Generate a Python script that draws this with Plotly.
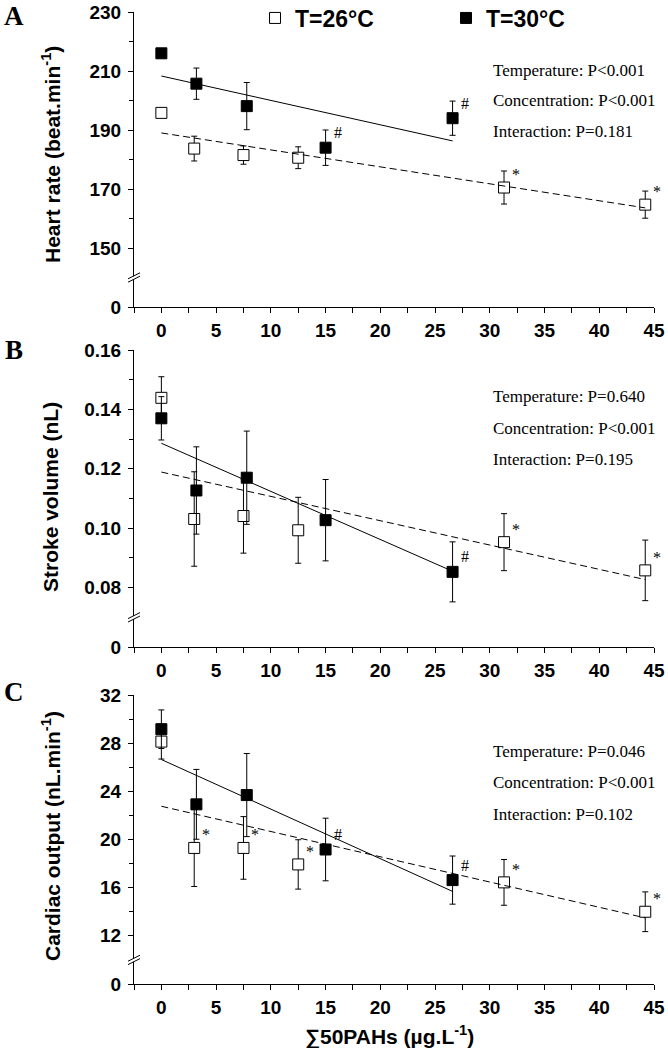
import plotly.graph_objects as go
from plotly.subplots import make_subplots

# sum of 50 PAHs (ug/L) for each group
conc_26 = [0, 3.0, 7.5, 12.5, 31.3, 44.2]
conc_30 = [0, 3.2, 7.8, 15.0, 26.6]

# A - heart rate (beat/min)
hr_26 = [195.8, 183.7, 181.5, 180.6, 170.5, 164.7]
hr_26_err = [1.5, 4.2, 3.1, 3.7, 5.6, 4.6]
hr_30 = [216.0, 205.7, 198.1, 184.0, 194.0]
hr_30_err = [1.5, 5.3, 8.0, 6.0, 5.8]
hr_fit_26 = [189.0, 163.6]
hr_fit_30 = [208.3, 186.3]
hr_marks_26 = ["", "", "", "", "*", "*"]
hr_marks_30 = ["", "", "", "#", "#"]
hr_stats = ["Temperature: P<0.001", "Concentration: P<0.001", "Interaction: P=0.181"]

# B - stroke volume (nL)
sv_26 = [0.1439, 0.1031, 0.1041, 0.0993, 0.0953, 0.0858]
sv_26_err = [0.0071, 0.0159, 0.0125, 0.0111, 0.0096, 0.0102]
sv_30 = [0.1370, 0.1127, 0.1170, 0.1027, 0.0853]
sv_30_err = [0.0073, 0.0147, 0.0157, 0.0137, 0.0101]
sv_fit_26 = [0.1189, 0.0827]
sv_fit_30 = [0.1286, 0.0855]
sv_marks_26 = ["", "", "", "", "*", "*"]
sv_marks_30 = ["", "", "", "", "#"]
sv_stats = ["Temperature: P=0.640", "Concentration: P<0.001", "Interaction: P=0.195"]

# C - cardiac output (nL/min)
co_26 = [28.13, 19.3, 19.3, 17.93, 16.44, 14.0]
co_26_err = [1.45, 3.2, 2.6, 2.05, 1.9, 1.65]
co_30 = [29.16, 22.92, 23.69, 19.17, 16.63]
co_30_err = [1.6, 2.9, 3.45, 2.6, 2.0]
co_fit_26 = [22.76, 13.49]
co_fit_30 = [26.64, 15.69]
co_marks_26 = ["", "*", "*", "*", "*", "*"]
co_marks_30 = ["", "", "", "#", "#"]
co_stats = ["Temperature: P=0.046", "Concentration: P<0.001", "Interaction: P=0.102"]

# broken y axes: the "0" tick sits one step below the lowest real tick
hr_ticks = [130, 150, 170, 190, 210, 230]
hr_ticktext = ["0", "150", "170", "190", "210", "230"]
sv_ticks = [0.06, 0.08, 0.10, 0.12, 0.14, 0.16]
sv_ticktext = ["0", "0.08", "0.10", "0.12", "0.14", "0.16"]
co_ticks = [8, 12, 16, 20, 24, 28, 32]
co_ticktext = ["0", "12", "16", "20", "24", "28", "32"]

W, H = 668, 1048
L, R, T, B = 134, 14, 12, 64
PW, PH = W - L - R, H - T - B
SANS = "Liberation Sans"
SERIF = "Liberation Serif"


def px(xp):
    # pixel -> paper x
    return (xp - L) / PW


def py(yp):
    # pixel -> paper y
    return 1 - (yp - T) / PH


panels = [
    dict(letter="A", title="Heart rate (beat.min<sup>-1</sup>)", top=12, bottom=307,
         y26=hr_26, e26=hr_26_err, y30=hr_30, e30=hr_30_err, f26=hr_fit_26, f30=hr_fit_30,
         m26=hr_marks_26, m30=hr_marks_30, stats=hr_stats, stats_y=[70, 100.7, 131.7],
         ticks=hr_ticks, ticktext=hr_ticktext, minor=[160, 180, 200, 220],
         title_y=155, letter_y=16),
    dict(letter="B", title="Stroke volume (nL)", top=350, bottom=647,
         y26=sv_26, e26=sv_26_err, y30=sv_30, e30=sv_30_err, f26=sv_fit_26, f30=sv_fit_30,
         m26=sv_marks_26, m30=sv_marks_30, stats=sv_stats, stats_y=[396.7, 428.3, 459],
         ticks=sv_ticks, ticktext=sv_ticktext, minor=[0.09, 0.11, 0.13, 0.15],
         title_y=497, letter_y=350),
    dict(letter="C", title="Cardiac output (nL.min<sup>-1</sup>)", top=695, bottom=984,
         y26=co_26, e26=co_26_err, y30=co_30, e30=co_30_err, f26=co_fit_26, f30=co_fit_30,
         m26=co_marks_26, m30=co_marks_30, stats=co_stats, stats_y=[751.7, 782.7, 814],
         ticks=co_ticks, ticktext=co_ticktext, minor=[14, 18, 22, 26, 30],
         title_y=836, letter_y=692),
]

fig = make_subplots(rows=3, cols=1)
annotations = []
shapes = []
mark_shift = {"#": (12, 15), "*": (12, 13)}

for row, p in enumerate(panels, start=1):
    first = row == 1
    err_style = dict(type="data", color="black", thickness=1, width=3)
    fig.add_trace(go.Scatter(
        x=conc_26, y=p["y26"], mode="markers", name="T=26°C", showlegend=first,
        marker=dict(symbol="square", size=11, color="white", line=dict(color="black", width=1)),
        error_y=dict(array=p["e26"], **err_style), cliponaxis=False,
    ), row=row, col=1)
    fig.add_trace(go.Scatter(
        x=conc_30, y=p["y30"], mode="markers", name="T=30°C", showlegend=first,
        marker=dict(symbol="square", size=11, color="black", line=dict(color="black", width=1)),
        error_y=dict(array=p["e30"], **err_style), cliponaxis=False,
    ), row=row, col=1)
    fig.add_trace(go.Scatter(
        x=[conc_26[0], conc_26[-1]], y=p["f26"], mode="lines", showlegend=False,
        line=dict(color="black", width=1, dash="7px,4px"),
    ), row=row, col=1)
    fig.add_trace(go.Scatter(
        x=[conc_30[0], conc_30[-1]], y=p["f30"], mode="lines", showlegend=False,
        line=dict(color="black", width=1),
    ), row=row, col=1)

    xref = "x" if row == 1 else f"x{row}"
    yref = "y" if row == 1 else f"y{row}"
    for xs, ys, marks in ((conc_26, p["y26"], p["m26"]), (conc_30, p["y30"], p["m30"])):
        for xv, yv, mk in zip(xs, ys, marks):
            if not mk:
                continue
            dx, dy = mark_shift[mk]
            annotations.append(dict(
                x=xv, y=yv, xref=xref, yref=yref, text=mk, showarrow=False,
                xanchor="center", yanchor="middle", xshift=dx, yshift=dy,
                font=dict(family=SERIF, size=16, color="black"),
            ))

    for txt, ys in zip(p["stats"], p["stats_y"]):
        annotations.append(dict(
            x=px(491), y=py(ys), xref="paper", yref="paper", xanchor="left", yanchor="middle",
            text=txt.replace("<", "&lt;"), showarrow=False,
            font=dict(family=SERIF, size=17, color="black"),
        ))
    annotations.append(dict(
        x=px(13.5), y=py(p["letter_y"]), xref="paper", yref="paper",
        xanchor="center", yanchor="middle", text=p["letter"], showarrow=False,
        font=dict(family=SERIF, size=27, color="black", weight="bold"),
    ))
    annotations.append(dict(
        x=px(51), y=py(p["title_y"]), xref="paper", yref="paper", textangle=-90,
        xanchor="center", yanchor="middle", text=p["title"], showarrow=False,
        font=dict(family=SANS, size=21, color="black", weight="bold"),
    ))

    # axis break marks
    lo, hi = p["ticks"][0], p["ticks"][-1]
    step = p["ticks"][1] - p["ticks"][0]
    yb = p["top"] + (hi - (lo + step / 2)) / (hi - lo) * (p["bottom"] - p["top"])
    x0, x1 = px(L - 6), px(L + 6)
    shapes.append(dict(
        type="path", xref="paper", yref="paper", layer="above", line=dict(width=0),
        fillcolor="white",
        path=f"M {x0},{py(yb + 4.5)} L {x1},{py(yb - 1.5)} L {x1},{py(yb - 4.5)} L {x0},{py(yb + 1.5)} Z",
    ))
    for off in (-1.7, 1.7):
        shapes.append(dict(
            type="line", xref="paper", yref="paper", layer="above",
            x0=x0, y0=py(yb + 3 + off), x1=x1, y1=py(yb - 3 + off),
            line=dict(color="black", width=1),
        ))

    fig.update_yaxes(
        domain=[py(p["bottom"]), py(p["top"])], range=[lo, hi],
        tickmode="array", tickvals=p["ticks"], ticktext=p["ticktext"],
        ticks="outside", ticklen=5, tickcolor="black", tickwidth=1,
        minor=dict(tickmode="array", tickvals=p["minor"], ticks="outside", ticklen=4,
                   tickcolor="black", tickwidth=1, showgrid=False),
        showline=True, linecolor="black", linewidth=1, showgrid=False, zeroline=False,
        tickfont=dict(family=SANS, size=19, color="black", weight="bold"),
        ticklabelstandoff=3,
        row=row, col=1,
    )
    fig.update_xaxes(
        domain=[0, 1], range=[-2.5, 45], tick0=0, dtick=5,
        ticks="outside", ticklen=5, tickcolor="black", tickwidth=1,
        minor=dict(tick0=-2.5, dtick=2.5, ticks="outside", ticklen=5,
                   tickcolor="black", tickwidth=1, showgrid=False),
        showline=True, linecolor="black", linewidth=1, showgrid=False, zeroline=False,
        tickfont=dict(family=SANS, size=19, color="black", weight="bold"),
        ticklabelstandoff=1,
        row=row, col=1,
    )

annotations.append(dict(
    x=px(389), y=py(1035), xref="paper", yref="paper", xanchor="center", yanchor="middle",
    text="∑50PAHs (µg.L<sup>-1</sup>)", showarrow=False,
    font=dict(family=SANS, size=21, color="black", weight="bold"),
))

fig.update_layout(
    width=W, height=H,
    margin=dict(l=L, r=R, t=T, b=B, autoexpand=False),
    paper_bgcolor="white", plot_bgcolor="white",
    font=dict(family=SANS, color="black"),
    annotations=annotations, shapes=shapes,
    legend=dict(
        orientation="h", x=px(255), y=py(18), xanchor="left", yanchor="middle",
        font=dict(family=SANS, size=23, color="black", weight="bold"),
        entrywidth=146, bgcolor="rgba(0,0,0,0)",
    ),
)

# drop the default body margin so the figure fills the window exactly
fig.write_html(
    "out.html",
    config={"displayModeBar": False},
    post_script="document.body.style.margin = '0';",
)
